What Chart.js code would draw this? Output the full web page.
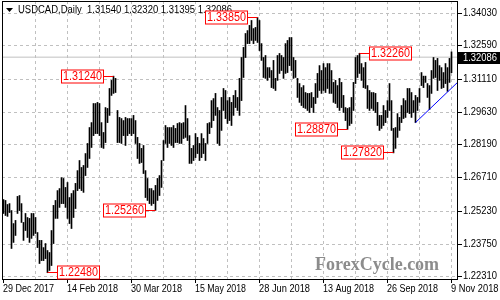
<!DOCTYPE html>
<html>
<head>
<meta charset="utf-8">
<script src="https://cdn.jsdelivr.net/npm/chart.js@4.4.1/dist/chart.umd.min.js"></script>
<style>
html, body { margin: 0; padding: 0; background: #fff; }
canvas { display: block; }
</style>
</head>
<body>
<canvas id="chart" width="500" height="300"></canvas>
<script>
// USDCAD daily bars, 29 Dec 2017 .. 9 Nov 2018
const highs = [
  1.2574, 1.2570, 1.2552, 1.2556, 1.2525, 1.2467, 1.2481, 1.2588, 1.2592, 1.2556,
  1.2472, 1.2512, 1.2494, 1.2490, 1.2512, 1.2512, 1.2494, 1.2427, 1.2392, 1.2392,
  1.2360, 1.2378, 1.2347, 1.2338, 1.2436, 1.2548, 1.2570, 1.2614, 1.2623, 1.2672,
  1.2668, 1.2628, 1.2650, 1.2583, 1.2601, 1.2614, 1.2646, 1.2703, 1.2748, 1.2717,
  1.2726, 1.2779, 1.2824, 1.2895, 1.2917, 1.3002, 1.3002, 1.3007, 1.3002, 1.2917,
  1.2873, 1.2984, 1.2980, 1.3069, 1.3105, 1.3124, 1.3114, 1.2971, 1.2940, 1.2935,
  1.2926, 1.2940, 1.2935, 1.2935, 1.2935, 1.2949, 1.2926, 1.2851, 1.2824, 1.2802,
  1.2815, 1.2703, 1.2668, 1.2623, 1.2623, 1.2614, 1.2637, 1.2668, 1.2681, 1.2748,
  1.2837, 1.2904, 1.2895, 1.2895, 1.2895, 1.2904, 1.2891, 1.2913, 1.2917, 1.2913,
  1.2917, 1.2993, 1.2935, 1.2859, 1.2802, 1.2815, 1.2868, 1.2851, 1.2824, 1.2868,
  1.2846, 1.2824, 1.2913, 1.2917, 1.3015, 1.3024, 1.3047, 1.2984, 1.2971, 1.3029,
  1.3069, 1.3060, 1.3015, 1.3029, 1.3007, 1.3038, 1.3060, 1.3029, 1.3114, 1.3207,
  1.3252, 1.3314, 1.3327, 1.3350, 1.3372, 1.3336, 1.3341, 1.3385, 1.3372, 1.3269,
  1.3207, 1.3216, 1.3162, 1.3162, 1.3149, 1.3194, 1.3114, 1.3216, 1.3225, 1.3216,
  1.3207, 1.3269, 1.3283, 1.3296, 1.3296, 1.3207, 1.3194, 1.3114, 1.3091, 1.3073,
  1.3082, 1.3051, 1.3047, 1.3047, 1.3051, 1.3029, 1.3091, 1.3136, 1.3171, 1.3149,
  1.3180, 1.3162, 1.3180, 1.3180, 1.3149, 1.3096, 1.3105, 1.3082, 1.3114, 1.3096,
  1.3038, 1.2984, 1.2980, 1.2984, 1.3029, 1.3096, 1.3207, 1.3216, 1.3226, 1.3180,
  1.3162, 1.3185, 1.3082, 1.3060, 1.3051, 1.3051, 1.3047, 1.3007, 1.2949, 1.2949,
  1.2993, 1.2971, 1.3015, 1.3091, 1.3015, 1.2891, 1.2895, 1.2957, 1.2940, 1.2993,
  1.3024, 1.3015, 1.3069, 1.3069, 1.3051, 1.3015, 1.3038, 1.3029, 1.3069, 1.3140,
  1.3124, 1.3124, 1.3091, 1.3082, 1.3149, 1.3207, 1.3194, 1.3203, 1.3171, 1.3162,
  1.3140, 1.3180, 1.3162, 1.3203, 1.3232
];
const lows = [
  1.2512, 1.2503, 1.2499, 1.2516, 1.2356, 1.2383, 1.2414, 1.2512, 1.2525, 1.2472,
  1.2392, 1.2436, 1.2405, 1.2383, 1.2401, 1.2414, 1.2423, 1.2360, 1.2289, 1.2302,
  1.2302, 1.2311, 1.2248, 1.2258, 1.2280, 1.2378, 1.2490, 1.2490, 1.2539, 1.2556,
  1.2556, 1.2539, 1.2490, 1.2467, 1.2445, 1.2494, 1.2534, 1.2614, 1.2623, 1.2614,
  1.2606, 1.2681, 1.2717, 1.2757, 1.2806, 1.2859, 1.2868, 1.2868, 1.2859, 1.2806,
  1.2802, 1.2828, 1.2917, 1.2949, 1.3038, 1.3047, 1.3051, 1.2828, 1.2828, 1.2824,
  1.2859, 1.2815, 1.2859, 1.2868, 1.2859, 1.2868, 1.2824, 1.2757, 1.2735, 1.2739,
  1.2690, 1.2583, 1.2570, 1.2556, 1.2548, 1.2556, 1.2526, 1.2570, 1.2592, 1.2628,
  1.2748, 1.2824, 1.2806, 1.2824, 1.2815, 1.2806, 1.2828, 1.2828, 1.2824, 1.2824,
  1.2846, 1.2851, 1.2837, 1.2735, 1.2735, 1.2748, 1.2761, 1.2779, 1.2748, 1.2761,
  1.2779, 1.2748, 1.2824, 1.2868, 1.2895, 1.2926, 1.2949, 1.2824, 1.2815, 1.2882,
  1.2971, 1.2935, 1.2913, 1.2926, 1.2904, 1.2949, 1.2984, 1.2971, 1.2949, 1.3015,
  1.3118, 1.3207, 1.3269, 1.3269, 1.3283, 1.3269, 1.3283, 1.3274, 1.3238, 1.3194,
  1.3118, 1.3114, 1.3105, 1.3118, 1.3073, 1.3069, 1.3060, 1.3105, 1.3136, 1.3149,
  1.3114, 1.3136, 1.3140, 1.3171, 1.3149, 1.3114, 1.3118, 1.3029, 1.3007, 1.2993,
  1.2984, 1.2980, 1.2971, 1.2962, 1.2984, 1.2962, 1.3002, 1.3029, 1.3060, 1.3047,
  1.3060, 1.3051, 1.3069, 1.3047, 1.3047, 1.3007, 1.3002, 1.2984, 1.2971, 1.2984,
  1.2962, 1.2926, 1.2887, 1.2904, 1.2913, 1.2971, 1.3091, 1.3118, 1.3136, 1.3105,
  1.3073, 1.3069, 1.2980, 1.2971, 1.2980, 1.2971, 1.2962, 1.2904, 1.2882, 1.2891,
  1.2904, 1.2917, 1.2940, 1.2971, 1.2882, 1.2782, 1.2802, 1.2851, 1.2882, 1.2917,
  1.2935, 1.2940, 1.2962, 1.2957, 1.2940, 1.2962, 1.2917, 1.2971, 1.3007, 1.3082,
  1.3073, 1.3096, 1.3029, 1.2975, 1.3047, 1.3114, 1.3118, 1.3060, 1.3105, 1.3069,
  1.3073, 1.3091, 1.3056, 1.3096, 1.31395
];

const symbol = 'USDCAD,Daily';
const lastBar = { open: '1.31540', high: '1.32320', low: '1.31395', close: '1.32086' };

const dateLabels = ['29 Dec 2017', '14 Feb 2018', '30 Mar 2018', '15 May 2018',
                    '28 Jun 2018', '13 Aug 2018', '26 Sep 2018', '9 Nov 2018'];
const barsPerLabel = 32;
const priceTicks = [1.22310, 1.23750, 1.25230, 1.26710, 1.28190, 1.29630, 1.31110, 1.32590, 1.34030];
const yMin = 1.22200, yMax = 1.34588;
const xMin = -0.75, xMax = 227.25;

// swing highs / lows with their labels
const swingBars   = [22, 55, 76, 127, 172, 178, 195];
const swingPrices = [1.22480, 1.31240, 1.25260, 1.33850, 1.28870, 1.32260, 1.27820];
const swingSide   = ['right', 'left', 'left', 'left', 'left', 'right', 'left'];

// rising support line
const trendBars   = [206, 227];
const trendPrices = [1.2917, 1.3096];

const barData = highs.map((h, i) => ({ x: i, y: [lows[i], h] }));
const closeLine = [{ x: xMin, y: parseFloat(lastBar.close) }, { x: xMax, y: parseFloat(lastBar.close) }];
const trendData = trendBars.map((b, i) => ({ x: b, y: trendPrices[i] }));

const gridBars = [];
for (let b = barsPerLabel / 2; b <= (dateLabels.length - 1) * barsPerLabel; b += barsPerLabel / 2) gridBars.push(b);

const FONT = '"Liberation Sans", Arial, sans-serif';

const overlay = {
  id: 'overlay',
  afterDraw(chart) {
    const { ctx, chartArea: a } = chart;
    const xs = chart.scales.x, ys = chart.scales.y;
    ctx.save();

    // frame
    ctx.strokeStyle = '#000';
    ctx.lineWidth = 1;
    ctx.strokeRect(a.left + 0.5, a.top + 0.5, a.right - a.left - 1, a.bottom - a.top);

    // price axis
    ctx.font = '10px ' + FONT;
    ctx.textBaseline = 'middle';
    ctx.textAlign = 'left';
    ctx.fillStyle = '#000';
    priceTicks.forEach(p => {
      const py = Math.floor(ys.getPixelForValue(p)) + 0.5;
      ctx.beginPath();
      ctx.moveTo(a.right, py); ctx.lineTo(a.right + 4, py);
      ctx.stroke();
      ctx.fillText(p.toFixed(5), a.right + 5, py, 34);
    });

    // time axis
    dateLabels.forEach((t, k) => {
      const px = Math.floor(xs.getPixelForValue(k * barsPerLabel)) + 0.5;
      ctx.beginPath();
      ctx.moveTo(px, a.bottom); ctx.lineTo(px, a.bottom + 4);
      ctx.stroke();
      ctx.fillText(t, px - 0.5, a.bottom + 10, Math.min(51, 499 - px));
    });

    // current price tag
    const cy = Math.floor(ys.getPixelForValue(parseFloat(lastBar.close)));
    ctx.fillStyle = '#000';
    ctx.fillRect(a.right, cy - 5, 500 - a.right, 12);
    ctx.fillStyle = '#fff';
    ctx.fillText(lastBar.close, a.right + 5, cy + 1, 34);

    // title
    ctx.fillStyle = '#000';
    ctx.beginPath();
    ctx.moveTo(6, 8); ctx.lineTo(13, 8); ctx.lineTo(9.5, 12); ctx.closePath();
    ctx.fill();
    ctx.fillText(symbol + '  ' + [lastBar.open, lastBar.high, lastBar.low, lastBar.close].join(' '), 18, 10, 214);

    // watermark
    ctx.font = 'bold 18px "Liberation Serif", serif';
    ctx.fillStyle = '#8c8c8c';
    ctx.textBaseline = 'alphabetic';
    ctx.fillText('ForexCycle.com', 315, 270, 136);

    // swing labels
    const boxW = 42, boxH = 13, gap = 10;
    ctx.font = '12px ' + FONT;
    ctx.textAlign = 'center';
    ctx.textBaseline = 'middle';
    swingBars.forEach((b, k) => {
      const bx = Math.floor(xs.getPixelForValue(b)) + 0.5;
      const py = Math.floor(ys.getPixelForValue(swingPrices[k])) + 0.5;
      const left = swingSide[k] === 'left' ? bx - gap - boxW : bx + gap;
      ctx.strokeStyle = '#ff0000';
      ctx.beginPath();
      if (swingSide[k] === 'left') { ctx.moveTo(bx, py); ctx.lineTo(left + boxW, py); }
      else { ctx.moveTo(bx, py); ctx.lineTo(left, py); }
      ctx.stroke();
      ctx.fillStyle = '#fff';
      ctx.fillRect(left, py - boxH / 2, boxW, boxH);
      ctx.strokeRect(left, py - boxH / 2, boxW, boxH);
      ctx.fillStyle = '#ff0000';
      ctx.fillText(swingPrices[k].toFixed(5), left + boxW / 2, py + 0.5, boxW - 3);
    });

    ctx.restore();
  }
};

new Chart(document.getElementById('chart'), {
  data: {
    datasets: [
      { type: 'line', data: closeLine, borderColor: '#c0c0c0', borderWidth: 1, pointRadius: 0, order: 3 },
      { type: 'bar', data: barData, backgroundColor: '#000', borderWidth: 0, barThickness: 1, grouped: false, order: 2 },
      { type: 'line', data: trendData, borderColor: '#0000ff', borderWidth: 1, pointRadius: 0, order: 1 }
    ]
  },
  options: {
    responsive: false,
    animation: false,
    devicePixelRatio: 1,
    layout: { padding: { left: 2, top: 1, right: 0, bottom: 0 } },
    plugins: { legend: { display: false }, tooltip: { enabled: false } },
    scales: {
      x: {
        type: 'linear', min: xMin, max: xMax, offset: false,
        afterBuildTicks: s => { s.ticks = gridBars.map(v => ({ value: v })); },
        afterFit: s => { s.height = 21; },
        ticks: { display: false },
        grid: { color: '#c0c0c0', drawTicks: false, offset: false },
        border: { display: false, dash: [3, 3] }
      },
      y: {
        type: 'linear', position: 'right', min: yMin, max: yMax, beginAtZero: false,
        afterBuildTicks: s => { s.ticks = priceTicks.map(v => ({ value: v })); },
        afterFit: s => { s.width = 42; },
        ticks: { display: false },
        grid: { color: '#c0c0c0', drawTicks: false },
        border: { display: false, dash: [3, 3] }
      }
    }
  },
  plugins: [overlay]
});
</script>
</body>
</html>
